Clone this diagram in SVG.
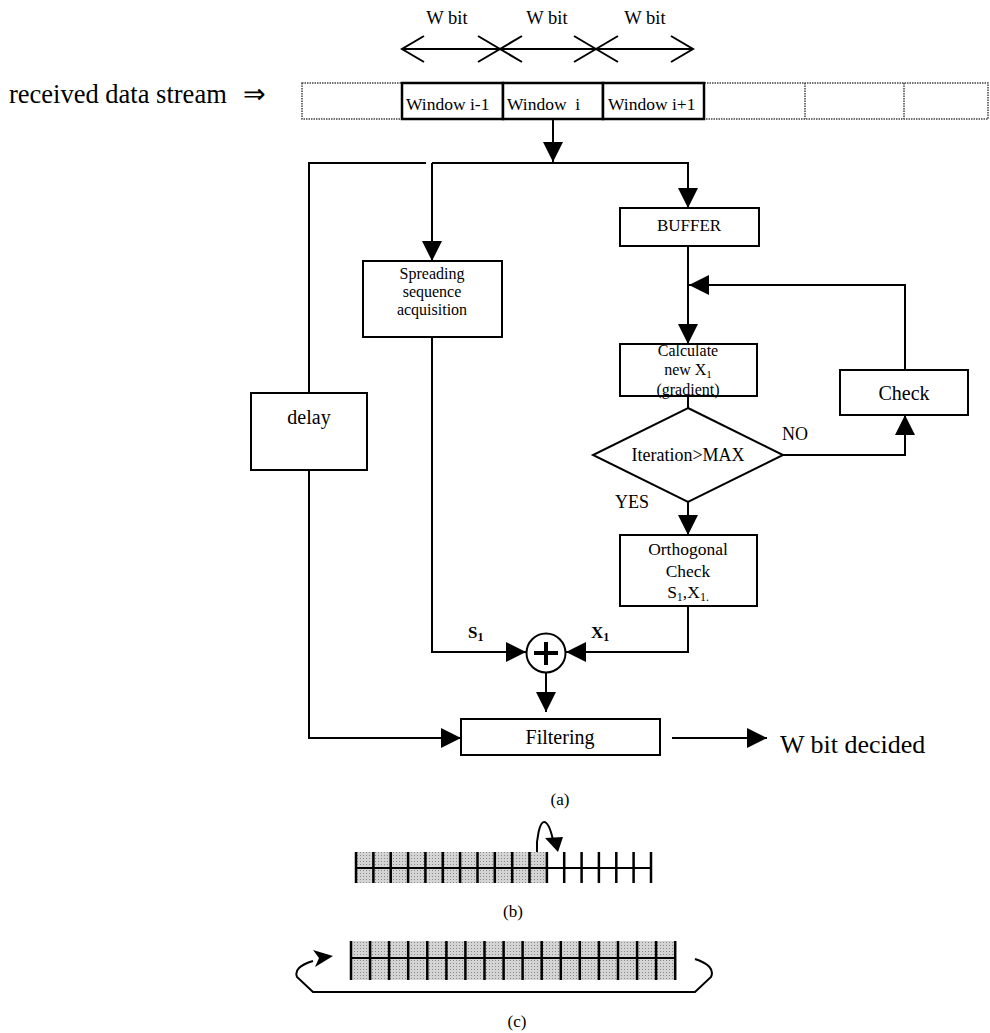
<svg xmlns="http://www.w3.org/2000/svg" width="990" height="1033" viewBox="0 0 990 1033">
<style>
text{font-family:'Liberation Serif','Times New Roman',serif;fill:#000}
.box{fill:#fff;stroke:#000;stroke-width:2}
.frame{fill:none;stroke:#000;stroke-width:2}
.win{fill:#fff;stroke:#000;stroke-width:2.5}
.ln{fill:none;stroke:#000;stroke-width:2}
.arr{fill:none;stroke:#000;stroke-width:2;marker-end:url(#ah)}
.dot{fill:none;stroke:#444;stroke-width:1.5;stroke-dasharray:1.5 1}
.tick{stroke:#000;stroke-width:2.5}
</style>
<defs>
<marker id="ah" markerUnits="userSpaceOnUse" markerWidth="20" markerHeight="20" refX="20" refY="10" orient="auto"><path d="M0,0 L20,10 L0,20 z" fill="#000"/></marker>
<pattern id="stip" width="3" height="3" patternUnits="userSpaceOnUse"><rect width="3" height="3" fill="#d4d4d4"/><rect width="1" height="1" fill="#8a8a8a"/></pattern>
</defs>
<rect width="990" height="1033" fill="#fff"/>

<g id="bit-width">
<text x="447" y="24" font-size="18.5" text-anchor="middle">W bit</text>
<text x="547" y="24" font-size="18.5" text-anchor="middle">W bit</text>
<text x="645" y="24" font-size="18.5" text-anchor="middle">W bit</text>
<path class="ln" d="M402,49 H693 M424,36 L402,49 L424,62 M478,36 L522,62 M478,62 L522,36 M574,36 L618,62 M574,62 L618,36 M671,36 L693,49 L671,62"/>
</g>

<g id="stream-label">
<text x="9" y="103" font-size="26.5">received data stream<tspan x="243">⇒</tspan></text>
</g>

<g id="stream">
<rect class="dot" x="302" y="83" width="686" height="36"/>
<line class="dot" x1="805" y1="83" x2="805" y2="119"/>
<line class="dot" x1="904" y1="83" x2="904" y2="119"/>
</g>
<g id="window-i-minus-1">
<rect class="win" x="402" y="83" width="101" height="36"/>
<text x="406" y="110" font-size="17.5">Window i-1</text>
</g>
<g id="window-i">
<rect class="win" x="503" y="83" width="100" height="36"/>
<text x="507" y="110" font-size="17.5" xml:space="preserve">Window  i</text>
</g>
<g id="window-i-plus-1">
<rect class="win" x="603" y="83" width="101" height="36"/>
<text x="608" y="110" font-size="17.5">Window i+1</text>
</g>

<g id="connectors">
<path class="arr" d="M553,119 V162"/>
<path class="ln" d="M426,163 H309 V393"/>
<path class="arr" d="M432,163 H688 V208"/>
<path class="arr" d="M432,163 V261"/>
<path class="arr" d="M688,246 V344"/>
<path class="arr" d="M905,370 V285 H689"/>
<path class="ln" d="M688,396 V408"/>
<path class="arr" d="M783,455 H905 V415"/>
<path class="arr" d="M688,502 V535"/>
<path class="arr" d="M688,606 V652 H566"/>
<path class="arr" d="M432,337 V652 H526"/>
<path class="arr" d="M546,672 V712"/>
<path class="arr" d="M309,470 V738 H461"/>
<path class="arr" d="M672,738 H767"/>
<text x="468" y="638" font-size="17" font-weight="bold">S<tspan font-size="12" dy="3">1</tspan></text>
<text x="591" y="638" font-size="17" font-weight="bold">X<tspan font-size="12" dy="3">1</tspan></text>
<text x="782" y="440" font-size="18">NO</text>
<text x="615" y="508" font-size="18">YES</text>
</g>

<g id="buffer">
<rect class="box" x="620" y="208" width="139" height="38"/>
<text x="689" y="231" font-size="17" text-anchor="middle">BUFFER</text>
</g>

<g id="spreading">
<rect class="box" x="363" y="261" width="139" height="76"/>
<text x="432" y="279" font-size="16" text-anchor="middle">Spreading</text>
<text x="432" y="297" font-size="16" text-anchor="middle">sequence</text>
<text x="432" y="315" font-size="16" text-anchor="middle">acquisition</text>
</g>

<g id="calculate">
<rect x="620" y="344" width="137" height="52" fill="#fff"/>
<text x="688" y="356" font-size="16" text-anchor="middle">Calculate</text>
<text x="688" y="375" font-size="16" text-anchor="middle">new X<tspan font-size="11" dy="3">1</tspan></text>
<text x="688" y="395" font-size="16" text-anchor="middle">(gradient)</text>
<rect class="frame" x="620" y="344" width="137" height="52"/>
</g>

<g id="check">
<rect class="box" x="840" y="370" width="128" height="45"/>
<text x="904" y="400" font-size="20" text-anchor="middle">Check</text>
</g>

<g id="iteration">
<polygon points="688,408 783,455 688,502 593,455" fill="#fff" stroke="#000" stroke-width="2"/>
<text x="688" y="461" font-size="18" text-anchor="middle">Iteration&gt;MAX</text>
</g>

<g id="delay">
<rect class="box" x="251" y="393" width="116" height="77"/>
<text x="309" y="424" font-size="20" text-anchor="middle">delay</text>
</g>

<g id="orthogonal">
<rect class="box" x="620" y="535" width="137" height="71"/>
<text x="688" y="555" font-size="17.5" text-anchor="middle">Orthogonal</text>
<text x="688" y="577" font-size="17.5" text-anchor="middle">Check</text>
<text x="688" y="598" font-size="17.5" text-anchor="middle">S<tspan font-size="12" dy="3">1</tspan><tspan dy="-3">,X</tspan><tspan font-size="12" dy="3">1.</tspan></text>
</g>

<g id="sum">
<circle cx="546" cy="653" r="19.5" fill="#fff" stroke="#000" stroke-width="2"/>
<path d="M534,653 H558 M546,642 V665" stroke="#000" stroke-width="4"/>
</g>

<g id="filtering">
<rect class="box" x="461" y="719" width="199" height="36"/>
<text x="560" y="744" font-size="20" text-anchor="middle">Filtering</text>
</g>

<g id="output">
<text x="780" y="753" font-size="26">W bit decided</text>
</g>

<text x="560" y="805" font-size="17" text-anchor="middle">(a)</text>

<g id="panel-b">
<rect x="356" y="852" width="191" height="31" fill="url(#stip)"/>
<path class="ln" d="M356,868 H651"/>
<path class="tick" d="M356,852 V883 M373.4,852 V883 M390.7,852 V883 M408.1,852 V883 M425.4,852 V883 M442.8,852 V883 M460.1,852 V883 M477.5,852 V883 M494.8,852 V883 M512.2,852 V883 M529.5,852 V883 M546.9,852 V883 M564.2,852 V883 M581.6,852 V883 M598.9,852 V883 M616.3,852 V883 M633.6,852 V883 M651,852 V883"/>
<path class="ln" d="M537,852 C536,838 540,822 544,822 C548,822 551,831 553,840"/>
<polygon points="545,838 563,837 558,852" fill="#000"/>
<text x="513" y="917" font-size="17" text-anchor="middle">(b)</text>
</g>

<g id="panel-c">
<rect x="351" y="941" width="324" height="39" fill="url(#stip)"/>
<path class="ln" d="M351,958 H675"/>
<path class="tick" d="M351,941 V980 M370.1,941 V980 M389.1,941 V980 M408.2,941 V980 M427.3,941 V980 M446.4,941 V980 M465.4,941 V980 M484.5,941 V980 M503.6,941 V980 M522.6,941 V980 M541.7,941 V980 M560.8,941 V980 M579.8,941 V980 M598.9,941 V980 M618,941 V980 M637.1,941 V980 M656.1,941 V980 M675.2,941 V980"/>
<path class="ln" d="M695,959 Q716,966 711,977 L695,992 H313 L297,977 Q293,967 313,961"/>
<polygon points="333,956 313,950 319,958 315,967" fill="#000"/>
<text x="517" y="1027" font-size="17" text-anchor="middle">(c)</text>
</g>
</svg>
